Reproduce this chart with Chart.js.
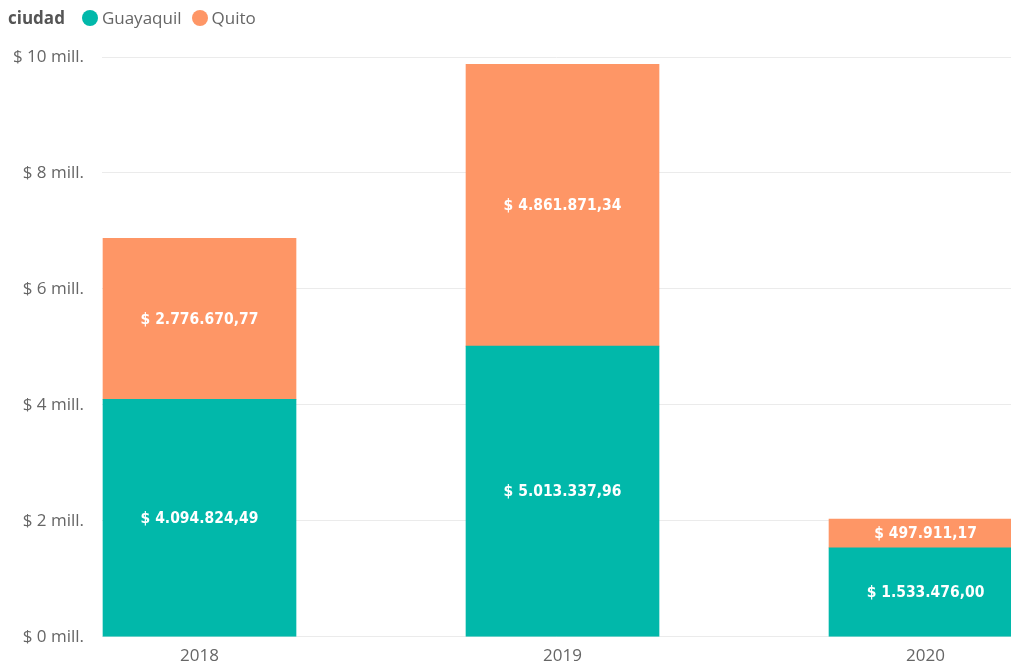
<!DOCTYPE html>
<html>
<head>
<meta charset="utf-8">
<script src="https://cdn.jsdelivr.net/npm/chart.js@4.4.1/dist/chart.umd.min.js"></script>
<style>
  html, body { margin: 0; padding: 0; background: #fff; }
  #wrap { position: relative; width: 1011px; height: 665px; }
  #legend { position: absolute; left: 8px; top: 6px; font-family: "Open Sans", "Noto Sans", sans-serif; font-size: 17px; color: #666; display: flex; align-items: center; white-space: nowrap; line-height: 24px; }
  #legend .title { font-weight: bold; color: #555; margin-right: 17px; }
  #legend .dot { width: 16px; height: 16px; border-radius: 50%; display: inline-block; margin-right: 4px; }
  #legend .item { display: flex; align-items: center; margin-right: 10px; }
</style>
</head>
<body>
<div id="wrap">
  <canvas id="c" width="1011" height="665"></canvas>
  <div id="legend"></div>
</div>
<script>
const legendTitle = "ciudad";
const categories = ["2018", "2019", "2020"];
const seriesNames = ["Guayaquil", "Quito"];
const guayaquil = [4094824.49, 5013337.96, 1533476.00];
const quito = [2776670.77, 4861871.34, 497911.17];
const seriesColors = ["#01B8AA", "#FE9666"];
const yTicks = [0, 2000000, 4000000, 6000000, 8000000, 10000000];

function fmtMoney(v) {
  const parts = v.toFixed(2).split(".");
  const intPart = parts[0].replace(/\B(?=(\d{3})+(?!\d))/g, ".");
  return "$ " + intPart + "," + parts[1];
}

// legend (HTML text)
const lg = document.getElementById("legend");
const t = document.createElement("span"); t.className = "title"; t.textContent = legendTitle; lg.appendChild(t);
seriesNames.forEach((n, i) => {
  const it = document.createElement("span"); it.className = "item";
  const d = document.createElement("span"); d.className = "dot"; d.style.background = seriesColors[i];
  const s = document.createElement("span"); s.textContent = n;
  it.appendChild(d); it.appendChild(s); lg.appendChild(it);
});

const seriesValues = [guayaquil, quito];
const datasets = seriesNames.map((n, i) => ({
  label: n,
  data: seriesValues[i].map((v, j) => ({ x: j, y: v })),
  backgroundColor: seriesColors[i],
  borderWidth: 0,
  barThickness: 193
}));

const labelPlugin = {
  id: "segLabels",
  afterDatasetsDraw(chart) {
    const ctx = chart.ctx;
    ctx.save();
    ctx.fillStyle = "#ffffff";
    ctx.font = "bold 15.5px 'DejaVu Sans Condensed', 'DejaVu Sans', sans-serif";
    ctx.textAlign = "center";
    ctx.textBaseline = "middle";
    chart.data.datasets.forEach((ds, di) => {
      const meta = chart.getDatasetMeta(di);
      meta.data.forEach((bar, j) => {
        const v = ds.data[j].y;
        const yMid = (bar.y + bar.base) / 2;
        ctx.fillText(fmtMoney(v), bar.x, yMid + 1);
      });
    });
    ctx.restore();
  }
};

new Chart(document.getElementById("c"), {
  type: "bar",
  data: { datasets },
  options: {
    responsive: false,
    animation: false,
    layout: { padding: { top: 57, left: 0, right: 0, bottom: 0 } },
    plugins: { legend: { display: false }, tooltip: { enabled: false } },
    scales: {
      x: {
        type: "linear",
        offset: false,
        stacked: true,
        min: -0.2686,
        max: 2.2355,
        afterBuildTicks(scale) { scale.ticks = categories.map((c, i) => ({ value: i })); },
        afterFit(scale) { scale.height = 28; },
        grid: { display: false, drawTicks: false },
        border: { display: false },
        ticks: {
          padding: 9,
          autoSkip: false,
          maxRotation: 0,
          color: "#666",
          font: { family: "'Open Sans', 'Noto Sans', sans-serif", size: 17 },
          callback: (v) => categories[v] !== undefined ? categories[v] : ""
        }
      },
      y: {
        stacked: true,
        min: 0,
        max: 10000000,
        afterBuildTicks(scale) { scale.ticks = yTicks.map(v => ({ value: v })); },
        afterFit(scale) { scale.width = 102; },
        grid: { color: "#ebebeb", lineWidth: 1, drawTicks: false },
        border: { display: false },
        ticks: {
          padding: 18,
          color: "#666",
          font: { family: "'Open Sans', 'Noto Sans', sans-serif", size: 17 },
          callback: (v) => "$ " + (v / 1000000) + " mill."
        }
      }
    }
  },
  plugins: [labelPlugin]
});
</script>
</body>
</html>
